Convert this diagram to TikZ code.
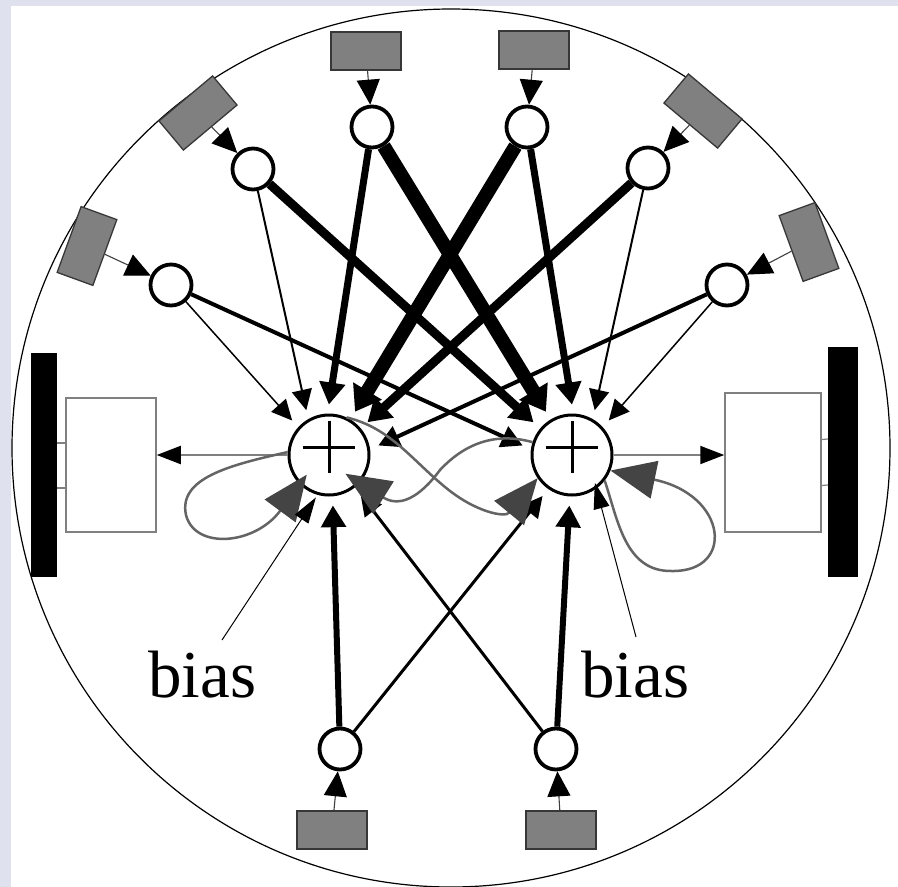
\documentclass[tikz,border=0pt]{standalone}
\usepackage{fontspec}
\setmainfont{Liberation Serif}
\usetikzlibrary{arrows.meta,calc}
\definecolor{bgc}{RGB}{224,225,238}
\definecolor{sens}{RGB}{128,128,128}
\definecolor{sensb}{RGB}{55,55,55}
\definecolor{recur}{RGB}{100,100,100}
\definecolor{rtip}{RGB}{68,68,68}
\definecolor{outl}{RGB}{128,128,128}
\begin{document}
\begin{tikzpicture}[x=1pt,y=-1pt,
  sensor/.style={draw=sensb,fill=sens,line width=1.3pt,minimum width=70pt,minimum height=38pt,inner sep=0pt},
  inp/.style={circle,draw=black,fill=white,line width=3.8pt,minimum size=41pt,inner sep=0pt},
  sumn/.style={circle,draw=black,fill=white,line width=3pt,minimum size=80pt,inner sep=0pt},
  motorbox/.style={draw=outl,fill=white,line width=1.5pt,inner sep=0pt},
  wheel/.style={fill=black,inner sep=0pt},
  feed/.style={draw=black!75,line width=1.1pt,-{Triangle[length=25pt,width=23pt,color=black]}},
  wconn/.style={line width=#1,-{Triangle[length=20pt 0.3,width=18pt 1]},shorten >=9pt},
  rec/.style={draw=recur,line width=2.5pt,-{Triangle[length=45pt,width=38pt,color=rtip]}},
  outa/.style={draw=outl,line width=2pt,-{Triangle[length=24pt,width=18pt,color=black]}},
  biasa/.style={line width=1pt,-{Triangle[length=26pt,width=16pt]}},
  plusl/.style={line width=3pt}
]
\useasboundingbox (0,0) rectangle (898,887);
\fill[bgc] (0,0) rectangle (898,887);
\fill[white] (11,6) rectangle (898,887);
\draw[line width=1.2pt] (451,448) circle[radius=439pt];

% wheels and motor boxes
\node[wheel,minimum width=26pt,minimum height=224pt] (wL) at (44,465) {};
\node[wheel,minimum width=30pt,minimum height=230pt] (wR) at (843,462) {};
\node[motorbox,minimum width=90pt,minimum height=134pt] (mL) at (111,465) {};
\node[motorbox,minimum width=96pt,minimum height=139pt] (mR) at (773,462.5) {};
\draw[outl,line width=1.2pt] ([yshift=22pt]wL.east) -- ([yshift=22pt]mL.west);
\draw[outl,line width=1.2pt] ([yshift=-23pt]wL.east) -- ([yshift=-23pt]mL.west);
\draw[outl,line width=1.2pt] ([yshift=23pt]mR.east) -- ([yshift=23pt]wR.west);
\draw[outl,line width=1.2pt] ([yshift=-23pt]mR.east) -- ([yshift=-23pt]wR.west);

% sensors
\node[sensor] (t1) at (366,51) {};
\node[sensor] (t2) at (534,50) {};
\node[sensor,rotate=40] (u1) at (198,113) {};
\node[sensor,rotate=70] (u2) at (87,246) {};
\node[sensor,rotate=-40] (u3) at (703,111) {};
\node[sensor,rotate=-70] (u4) at (809,242) {};
\node[sensor] (b1) at (332,830) {};
\node[sensor] (b2) at (561,830) {};

% input neurons
\node[inp] (n1) at (372,127) {};
\node[inp] (n2) at (527,127) {};
\node[inp] (n3) at (253,169) {};
\node[inp] (n4) at (171,285) {};
\node[inp] (n5) at (648,168) {};
\node[inp] (n6) at (727,285) {};
\node[inp] (n7) at (340,749) {};
\node[inp] (n8) at (556,749) {};

% sum neurons
\node[sumn] (s1) at (329,455) {};
\node[sumn] (s2) at (572,455) {};
\foreach \s in {s1,s2}{
  \draw[plusl] ($(\s)+(-26,-8)$) -- ($(\s)+(26,-8)$);
  \draw[plusl] ($(\s)+(0,-34)$) -- ($(\s)+(0,18)$);
}

% sensor -> input neuron
\draw[feed] (t1) -- (n1);
\draw[feed] (t2) -- (n2);
\draw[feed] (u1) -- (n3);
\draw[feed] (u2) -- (n4);
\draw[feed] (u3) -- (n5);
\draw[feed] (u4) -- (n6);
\draw[feed] (b1) -- (n7);
\draw[feed] (b2) -- (n8);

% weighted connections to S1
\draw[wconn=1.5pt] (n4) -- (s1.138);
\draw[wconn=2pt] (n3) -- (s1.120);
\draw[wconn=7pt] (n1) -- (s1.92);
\draw[wconn=14pt] (n2) -- (s1.59);
\draw[wconn=9pt] (n5) -- (s1.40);
\draw[wconn=4pt] (n6) -- (s1.8);
\draw[wconn=6pt] (n7) -- (s1.275);
\draw[wconn=3pt] (n8) -- (s1.309);
% weighted connections to S2
\draw[wconn=9pt] (n3) -- (s2.140);
\draw[wconn=14pt] (n1) -- (s2.121);
\draw[wconn=4pt] (n4) -- (s2.172);
\draw[wconn=7pt] (n2) -- (s2.88);
\draw[wconn=2pt] (n5) -- (s2.60);
\draw[wconn=1.5pt] (n6) -- (s2.42);
\draw[wconn=3pt] (n7) -- (s2.235);
\draw[wconn=6pt] (n8) -- (s2.267);

% outputs to motors
\draw[outa] (s1.west) -- (mL.east |- s1.west);
\draw[outa] (s2.east) -- (mR.west |- s2.east);

% recurrent connections
\draw[rec,shorten >=-12pt] (s1.176) .. controls (230,465) and (178,478) .. (186,515)
   .. controls (195,550) and (255,545) .. (s1.225);
\draw[rec] (s2.322) .. controls (618,520) and (625,572) .. (672,571)
   .. controls (735,572) and (728,495) .. (s2.338);
\draw[rec] (s1.65) .. controls (390,428) and (410,458) .. (445,487)
   .. controls (475,512) and (505,518) .. (s2.214);
\draw[rec,shorten >=-17pt] (s2.162) .. controls (500,433) and (468,440) .. (440,470)
   .. controls (420,497) and (400,508) .. (s1.318);

% bias
\node[anchor=base west,inner sep=0pt,font=\fontsize{67}{70}\selectfont] (tL) at (148,697) {bias};
\node[anchor=base west,inner sep=0pt,font=\fontsize{67}{70}\selectfont] (tR) at (581,697) {bias};
\coordinate (bL) at (222,640);
\coordinate (bR) at (636,637);
\draw[biasa,shorten >=3pt] (bL) -- (s1.254);
\draw[biasa,shorten >=-6pt] (bR) -- (s2.306);
\end{tikzpicture}
\end{document}
